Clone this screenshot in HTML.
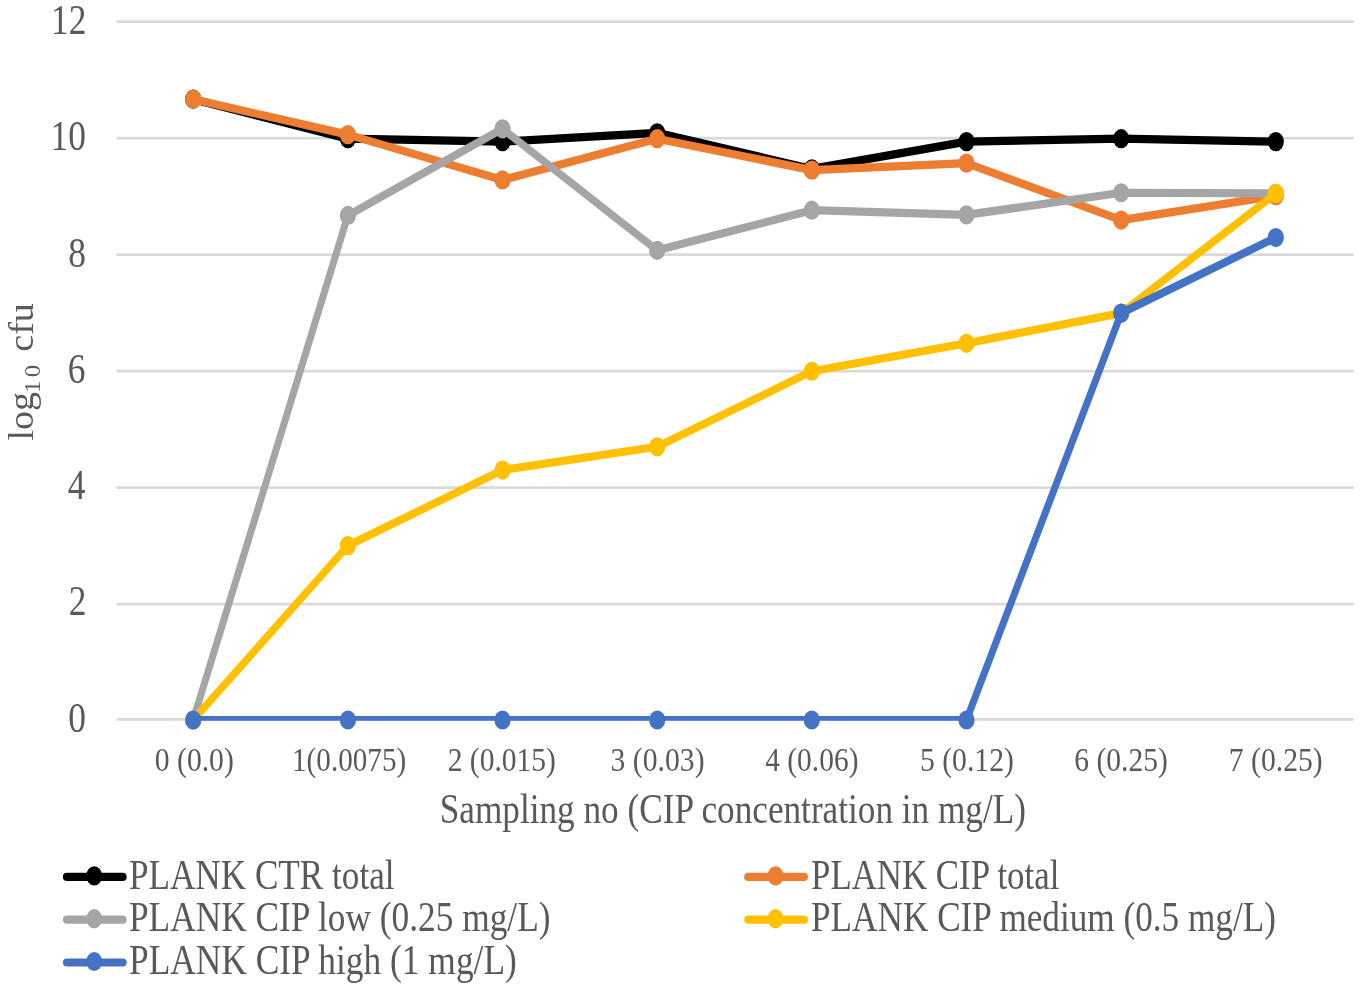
<!DOCTYPE html>
<html><head><meta charset="utf-8"><title>chart</title>
<style>
html,body{margin:0;padding:0;background:#fff;}
body{width:1361px;height:989px;overflow:hidden;}
svg{display:block;}
text{font-family:"Liberation Serif",serif;fill:#595959;}
</style></head><body>
<svg width="1361" height="989" viewBox="0 0 1361 989">
<rect width="1361" height="989" fill="#fff"/>
<defs><clipPath id="pc"><rect x="100" y="0" width="1261" height="608.17"/></clipPath></defs>

<line x1="116.5" x2="1353.6" y1="21.70" y2="21.70" stroke="#D9D9D9" stroke-width="2.7"/>
<line x1="116.5" x2="1353.6" y1="138.20" y2="138.20" stroke="#D9D9D9" stroke-width="2.7"/>
<line x1="116.5" x2="1353.6" y1="254.60" y2="254.60" stroke="#D9D9D9" stroke-width="2.7"/>
<line x1="116.5" x2="1353.6" y1="371.20" y2="371.20" stroke="#D9D9D9" stroke-width="2.7"/>
<line x1="116.5" x2="1353.6" y1="487.70" y2="487.70" stroke="#D9D9D9" stroke-width="2.7"/>
<line x1="116.5" x2="1353.6" y1="604.20" y2="604.20" stroke="#D9D9D9" stroke-width="2.7"/>
<line x1="116.5" x2="1353.6" y1="719.30" y2="719.30" stroke="#D9D9D9" stroke-width="2.7"/>
<g transform="scale(1,1.1852)">
<polyline points="193.2,83.68 347.9,117.03 502.5,119.48 657.2,112.12 811.8,142.53 966.5,119.48 1121.2,117.03 1275.8,119.48" fill="none" stroke="#000000" stroke-width="6.92" stroke-linejoin="round" stroke-linecap="round" clip-path="url(#pc)"/>
<circle cx="193.2" cy="83.68" r="8.1" fill="#000000"/>
<circle cx="347.9" cy="117.03" r="8.1" fill="#000000"/>
<circle cx="502.5" cy="119.48" r="8.1" fill="#000000"/>
<circle cx="657.2" cy="112.12" r="8.1" fill="#000000"/>
<circle cx="811.8" cy="142.53" r="8.1" fill="#000000"/>
<circle cx="966.5" cy="119.48" r="8.1" fill="#000000"/>
<circle cx="1121.2" cy="117.03" r="8.1" fill="#000000"/>
<circle cx="1275.8" cy="119.48" r="8.1" fill="#000000"/>
<polyline points="193.2,83.68 347.9,113.59 502.5,151.85 657.2,117.03 811.8,143.51 966.5,137.63 1121.2,185.69 1275.8,165.09" fill="none" stroke="#ED7D31" stroke-width="6.92" stroke-linejoin="round" stroke-linecap="round" clip-path="url(#pc)"/>
<circle cx="193.2" cy="83.68" r="8.1" fill="#ED7D31"/>
<circle cx="347.9" cy="113.59" r="8.1" fill="#ED7D31"/>
<circle cx="502.5" cy="151.85" r="8.1" fill="#ED7D31"/>
<circle cx="657.2" cy="117.03" r="8.1" fill="#ED7D31"/>
<circle cx="811.8" cy="143.51" r="8.1" fill="#ED7D31"/>
<circle cx="966.5" cy="137.63" r="8.1" fill="#ED7D31"/>
<circle cx="1121.2" cy="185.69" r="8.1" fill="#ED7D31"/>
<circle cx="1275.8" cy="165.09" r="8.1" fill="#ED7D31"/>
<polyline points="193.2,607.50 347.9,181.77 502.5,108.69 657.2,211.20 811.8,177.36 966.5,181.28 1121.2,162.64 1275.8,163.13" fill="none" stroke="#A5A5A5" stroke-width="6.92" stroke-linejoin="round" stroke-linecap="round" clip-path="url(#pc)"/>
<circle cx="193.2" cy="607.50" r="8.1" fill="#A5A5A5"/>
<circle cx="347.9" cy="181.77" r="8.1" fill="#A5A5A5"/>
<circle cx="502.5" cy="108.69" r="8.1" fill="#A5A5A5"/>
<circle cx="657.2" cy="211.20" r="8.1" fill="#A5A5A5"/>
<circle cx="811.8" cy="177.36" r="8.1" fill="#A5A5A5"/>
<circle cx="966.5" cy="181.28" r="8.1" fill="#A5A5A5"/>
<circle cx="1121.2" cy="162.64" r="8.1" fill="#A5A5A5"/>
<circle cx="1275.8" cy="163.13" r="8.1" fill="#A5A5A5"/>
<polyline points="193.2,607.50 347.9,460.36 502.5,396.60 657.2,376.98 811.8,313.22 966.5,289.67 1121.2,264.17 1275.8,163.13" fill="none" stroke="#FFC000" stroke-width="6.92" stroke-linejoin="round" stroke-linecap="round" clip-path="url(#pc)"/>
<circle cx="193.2" cy="607.50" r="8.1" fill="#FFC000"/>
<circle cx="347.9" cy="460.36" r="8.1" fill="#FFC000"/>
<circle cx="502.5" cy="396.60" r="8.1" fill="#FFC000"/>
<circle cx="657.2" cy="376.98" r="8.1" fill="#FFC000"/>
<circle cx="811.8" cy="313.22" r="8.1" fill="#FFC000"/>
<circle cx="966.5" cy="289.67" r="8.1" fill="#FFC000"/>
<circle cx="1121.2" cy="264.17" r="8.1" fill="#FFC000"/>
<circle cx="1275.8" cy="163.13" r="8.1" fill="#FFC000"/>
<polyline points="193.2,607.50 347.9,607.50 502.5,607.50 657.2,607.50 811.8,607.50 966.5,607.50 1121.2,264.17 1275.8,200.41" fill="none" stroke="#4472C4" stroke-width="6.92" stroke-linejoin="round" stroke-linecap="round" clip-path="url(#pc)"/>
<circle cx="193.2" cy="607.50" r="8.1" fill="#4472C4"/>
<circle cx="347.9" cy="607.50" r="8.1" fill="#4472C4"/>
<circle cx="502.5" cy="607.50" r="8.1" fill="#4472C4"/>
<circle cx="657.2" cy="607.50" r="8.1" fill="#4472C4"/>
<circle cx="811.8" cy="607.50" r="8.1" fill="#4472C4"/>
<circle cx="966.5" cy="607.50" r="8.1" fill="#4472C4"/>
<circle cx="1121.2" cy="264.17" r="8.1" fill="#4472C4"/>
<circle cx="1275.8" cy="200.41" r="8.1" fill="#4472C4"/>
</g>
<text transform="translate(68.19,731.60) scale(0.8578,1)" font-size="41.3">0</text>
<text transform="translate(68.75,615.34) scale(0.8578,1)" font-size="41.3">2</text>
<text transform="translate(67.64,499.08) scale(0.8578,1)" font-size="41.3">4</text>
<text transform="translate(67.64,382.82) scale(0.8578,1)" font-size="41.3">6</text>
<text transform="translate(68.19,266.56) scale(0.8578,1)" font-size="41.3">8</text>
<text transform="translate(50.48,150.30) scale(0.8578,1)" font-size="41.3">10</text>
<text transform="translate(51.03,34.04) scale(0.8578,1)" font-size="41.3">12</text>
<text transform="translate(154.77,770.70) scale(0.8726,1)" font-size="34.0">0 (0.0)</text>
<text transform="translate(292.02,770.70) scale(0.8580,1)" font-size="34.0">1(0.0075)</text>
<text transform="translate(447.68,770.70) scale(0.8688,1)" font-size="34.0">2 (0.015)</text>
<text transform="translate(610.61,770.70) scale(0.8729,1)" font-size="34.0">3 (0.03)</text>
<text transform="translate(765.24,770.70) scale(0.8660,1)" font-size="34.0">4 (0.06)</text>
<text transform="translate(920.01,770.70) scale(0.8720,1)" font-size="34.0">5 (0.12)</text>
<text transform="translate(1074.28,770.70) scale(0.8685,1)" font-size="34.0">6 (0.25)</text>
<text transform="translate(1228.85,770.70) scale(0.8726,1)" font-size="34.0">7 (0.25)</text>
<text transform="translate(439.80,823.00) scale(0.8424,1)" font-size="41.8">Sampling no (CIP concentration in mg/L)</text>
<text transform="translate(128.95,888.60) scale(0.8453,1)" font-size="41.6">PLANK CTR total</text>
<text transform="translate(811.06,888.60) scale(0.8371,1)" font-size="41.6">PLANK CIP total</text>
<text transform="translate(128.95,931.40) scale(0.8494,1)" font-size="41.6">PLANK CIP low (0.25 mg/L)</text>
<text transform="translate(811.05,931.40) scale(0.8462,1)" font-size="41.6">PLANK CIP medium (0.5 mg/L)</text>
<text transform="translate(128.95,974.20) scale(0.8506,1)" font-size="41.6">PLANK CIP high (1 mg/L)</text>
<text transform="translate(32.9,440.0) rotate(-90) scale(1.055,1)" font-size="36"><tspan x="-0.57">log</tspan><tspan x="44.45 59.51" dy="7.5" font-size="23.5">10</tspan><tspan x="72.04 83.72" dy="-7.5"> cfu</tspan></text>
<line x1="67.0" x2="122.6" y1="876.9" y2="876.9" stroke="#000000" stroke-width="8.2" stroke-linecap="round"/>
<ellipse cx="94.2" cy="875.9" rx="7.9" ry="9.6" fill="#000000"/>
<line x1="748.3" x2="803.9" y1="876.9" y2="876.9" stroke="#ED7D31" stroke-width="8.2" stroke-linecap="round"/>
<ellipse cx="775.5" cy="875.9" rx="7.9" ry="9.6" fill="#ED7D31"/>
<line x1="67.0" x2="122.6" y1="919.7" y2="919.7" stroke="#A5A5A5" stroke-width="8.2" stroke-linecap="round"/>
<ellipse cx="94.2" cy="918.7" rx="7.9" ry="9.6" fill="#A5A5A5"/>
<line x1="748.3" x2="803.9" y1="919.7" y2="919.7" stroke="#FFC000" stroke-width="8.2" stroke-linecap="round"/>
<ellipse cx="775.5" cy="918.7" rx="7.9" ry="9.6" fill="#FFC000"/>
<line x1="67.0" x2="122.6" y1="962.5" y2="962.5" stroke="#4472C4" stroke-width="8.2" stroke-linecap="round"/>
<ellipse cx="94.2" cy="961.5" rx="7.9" ry="9.6" fill="#4472C4"/>
</svg></body></html>
